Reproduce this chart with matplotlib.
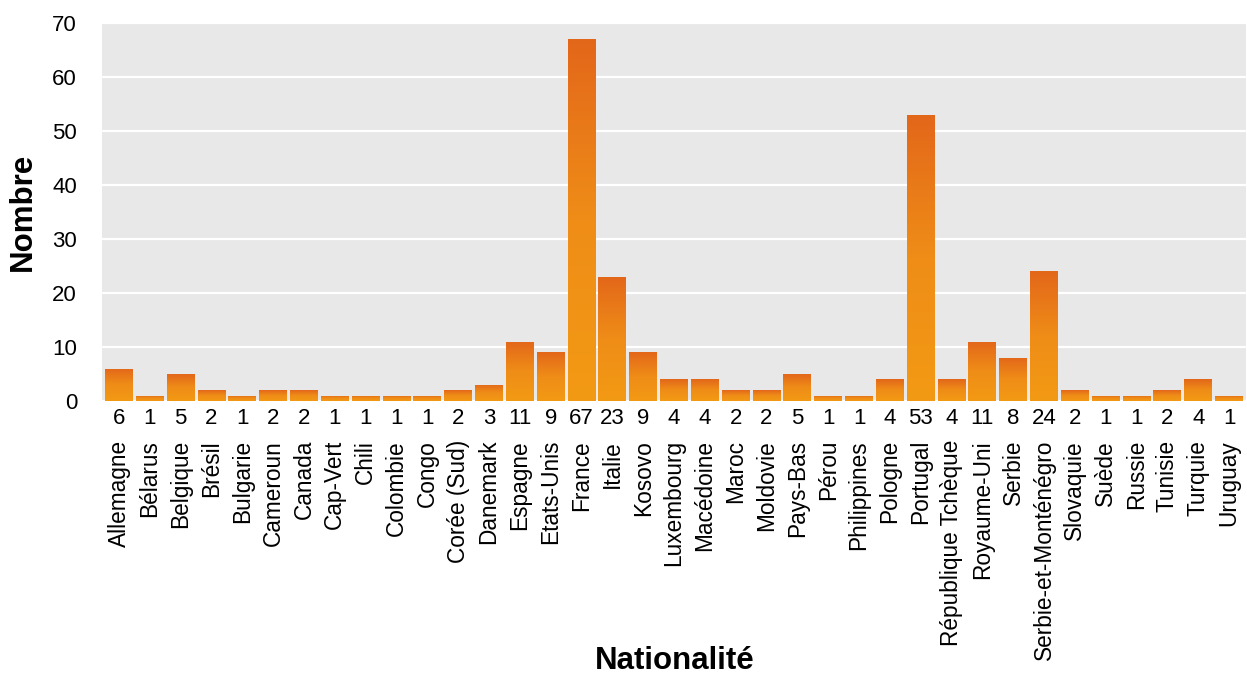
import matplotlib
matplotlib.use("Agg")
import matplotlib.pyplot as plt
import numpy as np
from matplotlib.colors import LinearSegmentedColormap

categories = ["Allemagne", "Bélarus", "Belgique", "Brésil", "Bulgarie", "Cameroun",
              "Canada", "Cap-Vert", "Chili", "Colombie", "Congo", "Corée (Sud)",
              "Danemark", "Espagne", "Etats-Unis", "France", "Italie", "Kosovo",
              "Luxembourg", "Macédoine", "Maroc", "Moldovie", "Pays-Bas", "Pérou",
              "Philippines", "Pologne", "Portugal", "République Tchèque",
              "Royaume-Uni", "Serbie", "Serbie-et-Monténégro", "Slovaquie", "Suède",
              "Russie", "Tunisie", "Turquie", "Uruguay"]
values = [6, 1, 5, 2, 1, 2, 2, 1, 1, 1, 1, 2, 3, 11, 9, 67, 23, 9, 4, 4, 2, 2, 5,
          1, 1, 4, 53, 4, 11, 8, 24, 2, 1, 1, 2, 4, 1]
yticks = [0, 10, 20, 30, 40, 50, 60, 70]

plt.rcParams['font.family'] = ['Liberation Sans', 'DejaVu Sans']

fig = plt.figure(figsize=(12.47, 6.75), dpi=100)
ax = fig.add_axes([102/1247, 1-401/675, (1246-102)/1247, (401-23)/675])
ax.set_facecolor('#e8e8e8')

cmap = LinearSegmentedColormap.from_list('og', ['#f39a14', '#ef8d17', '#e3671a'])
grad = np.linspace(0, 1, 256).reshape(-1, 1)

x = np.arange(len(categories))
bars = ax.bar(x, values, width=0.9, color='none', edgecolor='none', zorder=2)
for b in bars:
    x0 = b.get_x(); w = b.get_width(); h = b.get_height()
    im = ax.imshow(grad, cmap=cmap, origin='lower', aspect='auto',
                   extent=[x0, x0 + w, 0, h], zorder=2, interpolation='bilinear')
    im.set_clip_path(b)

ax.set_xlim(-0.55, len(categories) - 0.45)
ax.set_ylim(0, 70)
ax.set_yticks(yticks)
ax.set_yticklabels([str(t) for t in yticks], fontsize=16)
ax.yaxis.grid(True, color='white', linewidth=1.6, zorder=1)
ax.set_axisbelow(True)
ax.tick_params(axis='y', length=0, pad=18)
for s in ax.spines.values():
    s.set_visible(False)

ax.set_xticks(x)
ax.set_xticklabels(categories, rotation=90, fontsize=16.3, va='top', ha='center')
ax.tick_params(axis='x', length=0, pad=28)

for xi, v in zip(x, values):
    ax.text(xi, -0.045, str(v), transform=ax.get_xaxis_transform(),
            ha='center', va='center', fontsize=16)

fig.text(675/1247, 1-661/675, 'Nationalité', ha='center', va='center',
         fontsize=22.5, fontweight='bold')
fig.text(23/1247, 1-212/675, 'Nombre', ha='center', va='center',
         fontsize=22.5, fontweight='bold', rotation=90)

fig.savefig('out.png', dpi=100)
